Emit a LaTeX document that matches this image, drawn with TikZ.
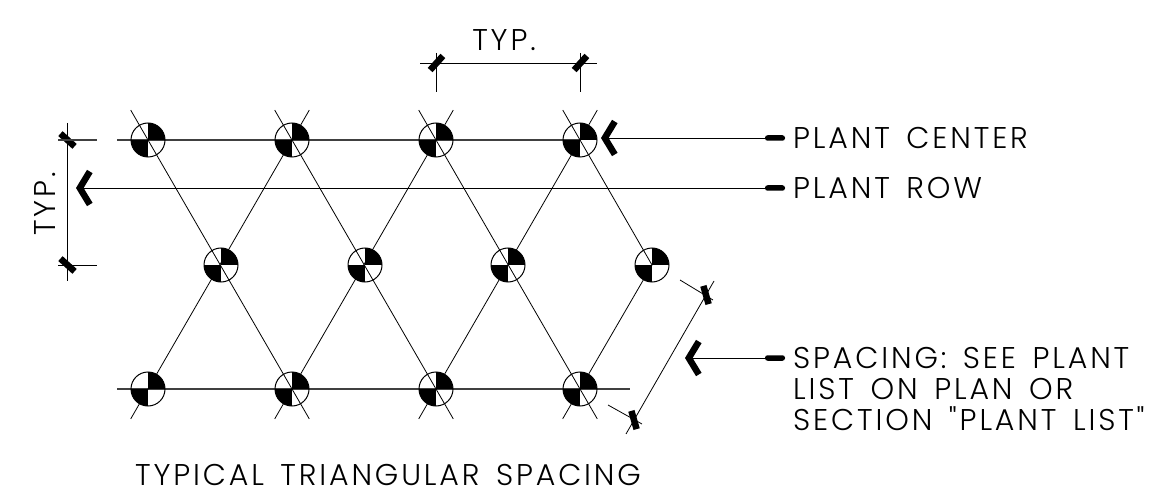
\documentclass[tikz,border=0pt]{standalone}
\usepackage{fontspec}
\newfontfamily\cadfont[LetterSpace=9.5,WordSpace=1.5]{Poppins Light}
\usetikzlibrary{arrows.meta,backgrounds}
\tikzset{
    plant/.style={circle,draw,line width=1pt,minimum size=34pt,inner sep=0pt,
        path picture={
            \fill (path picture bounding box.center) rectangle (path picture bounding box.north east);
            \fill (path picture bounding box.center) rectangle (path picture bounding box.south west);
        }},
    hair/.style={line width=0.8pt},
    row/.style={line width=1.1pt,black!75},
    over/.style={hair,shorten <=-34.5pt},
    both/.style={over,shorten >=-34.5pt},
    tick/.style={fill,inner sep=0pt,minimum width=19pt,minimum height=6.5pt},
    blob/.style={fill,rounded corners=2.5pt,inner sep=0pt,minimum width=20pt,minimum height=5.5pt},
    leader/.style={hair,{Straight Barb[length=10pt,width=33pt,line width=6.5pt]}-},
    label/.style={anchor=west,inner sep=0pt,font=\cadfont\fontsize{30}{31}\selectfont,align=left},
    title/.style={inner sep=0pt,font=\cadfont\fontsize{30}{31}\selectfont}
}
\begin{document}
\begin{tikzpicture}[x=1pt,y=-1pt]
    \useasboundingbox (0,0) rectangle (1153,494);

    % plants
    \foreach \i/\x in {1/148,2/292,3/436,4/580} {
        \node[plant] (a\i) at (\x,140) {};
        \node[plant] (c\i) at (\x,389) {};
    }
    \foreach \i/\x in {1/221,2/365,3/508,4/652}
        \node[plant] (b\i) at (\x,265) {};

    % free ends of the rows and dimensions
    \coordinate (rowastart) at (117,140);
    \coordinate (rowcstart) at (117,389);
    \coordinate (rowcend) at (630,389);
    \coordinate (topa) at (420,63);
    \coordinate (topb) at (597,63);
    \coordinate (topc) at (436,53);
    \coordinate (topd) at (436,92);
    \coordinate (tope) at (580,53);
    \coordinate (topf) at (580,92);
    \coordinate (lefta) at (67,123);
    \coordinate (leftb) at (67,281);
    \coordinate (leftc) at (58,140);
    \coordinate (leftd) at (97,140);
    \coordinate (lefte) at (58,265);
    \coordinate (leftf) at (97,265);
    \coordinate (slanta) at (714,281);
    \coordinate (slantb) at (626,434);
    \coordinate (slantc) at (680,280);
    \coordinate (slantd) at (713,300);
    \coordinate (slante) at (608,405);
    \coordinate (slantf) at (642,424);
    \coordinate (centertip) at (601,138);
    \coordinate (rowtip) at (76,188);
    \coordinate (spacingtip) at (685,358);

    % tick marks
    \node[tick,rotate=48] (ticka) at (436.5,63) {};
    \node[tick,rotate=48] (tickb) at (580.5,63) {};
    \node[tick,rotate=-42] (tickc) at (67.5,140) {};
    \node[tick,rotate=-42] (tickd) at (67.5,265) {};
    \node[tick,rotate=-74] (ticke) at (706,295) {};
    \node[tick,rotate=-74] (tickf) at (634,420) {};

    % leaders
    \node[blob] (centerblob) at (775,138) {};
    \node[blob] (rowblob) at (775,188) {};
    \node[blob] (spacingblob) at (775,358) {};

    % text
    \node[label] (centerlabel) at (793,138) {PLANT CENTER};
    \node[label] (rowlabel) at (793,188) {PLANT ROW};
    \node[label] (spacinglabel) at (793,389) {SPACING: SEE PLANT\\LIST ON PLAN OR\\SECTION "PLANT LIST"};
    \node[title] (toplabel) at (504,40) {TYP.};
    \node[title,rotate=90] (leftlabel) at (45,204) {TYP.};
    \node[title] (titlelabel) at (388,475) {TYPICAL TRIANGULAR SPACING};

    \begin{pgfonlayer}{background}
        \draw[row] (rowastart) -- (a1.center) -- (a2.center) -- (a3.center) -- (a4.center);
        \draw[row] (rowcstart) -- (c1.center) -- (c2.center) -- (c3.center) -- (c4.center) -- (rowcend);
        \draw[both] (a1.center) -- (c2.center);
        \draw[both] (a2.center) -- (c3.center);
        \draw[both] (a3.center) -- (c4.center);
        \draw[over] (a4.center) -- (b4.center);
        \draw[both] (c1.center) -- (a2.center);
        \draw[both] (c2.center) -- (a3.center);
        \draw[both] (c3.center) -- (a4.center);
        \draw[over] (c4.center) -- (b4.center);
    \end{pgfonlayer}

    % dimensions
    \draw[hair] (topa) -- (topb);
    \draw[hair] (topc) -- (topd);
    \draw[hair] (tope) -- (topf);
    \draw[hair] (lefta) -- (leftb);
    \draw[row] (leftc) -- (leftd);
    \draw[hair] (lefte) -- (leftf);
    \draw[hair] (slanta) -- (slantb);
    \draw[hair] (slantc) -- (slantd);
    \draw[hair] (slante) -- (slantf);

    \draw[leader] (centertip) -- (centerblob.west);
    \draw[leader] (rowtip) -- (rowblob.west);
    \draw[leader] (spacingtip) -- (spacingblob.west);
\end{tikzpicture}
\end{document}
